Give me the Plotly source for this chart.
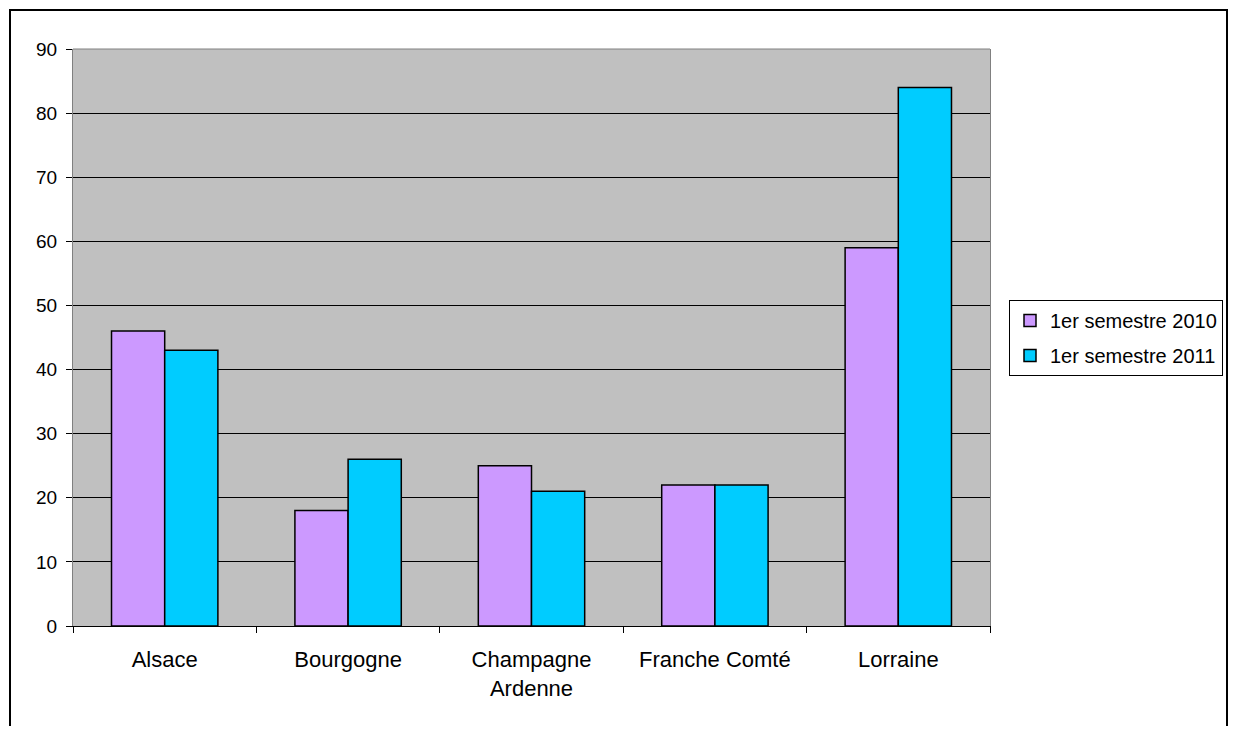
import plotly.graph_objects as go

categories = ["Alsace", "Bourgogne", "Champagne<br>Ardenne", "Franche Comté", "Lorraine"]
series_names = ["1er semestre 2010", "1er semestre 2011"]
values_2010 = [46, 18, 25, 22, 59]
values_2011 = [43, 26, 21, 22, 84]
y_ticks = [0, 10, 20, 30, 40, 50, 60, 70, 80, 90]

# page body has an 8px margin; figure coords = screen coords - 8
OFF = 8
W, H = 1236 - OFF, 734 - 2 * OFF
L, R, T, B = 73 - OFF, 990 - OFF, 49 - OFF, 626 - OFF

FAM = "Liberation Sans, Arial, sans-serif"

fig = go.Figure()
fig.add_trace(go.Bar(x=categories, y=values_2010, name=series_names[0], legendgroup="a",
                     marker=dict(color="#CC99FF", line=dict(color="#000000", width=1.5))))
fig.add_trace(go.Bar(x=categories, y=values_2011, name=series_names[1], legendgroup="b",
                     marker=dict(color="#00CCFF", line=dict(color="#000000", width=1.5))))

def px_x(p):
    return (p - OFF - L) / (R - L)

def px_y(p):
    return (B - (p - OFF)) / (B - T)

fig.update_layout(
    width=W, height=H,
    margin=dict(l=L, r=W - R, t=T, b=H - B, pad=0),
    paper_bgcolor="#FFFFFF",
    plot_bgcolor="#C0C0C0",
    font=dict(family=FAM, size=20, color="#000000"),
    barmode="group",
    bargap=0.42,
    bargroupgap=0,
    showlegend=True,
    legend=dict(
        x=px_x(1009), y=px_y(300), xanchor="left", yanchor="top",
        bordercolor="#000000", borderwidth=1, bgcolor="#FFFFFF",
        font=dict(family=FAM, size=20, color="#000000"),
        traceorder="grouped", tracegroupgap=6,
    ),
    xaxis=dict(
        type="category",
        showline=True, linecolor="#000000", linewidth=1,
        ticks="outside", ticklen=6, tickcolor="#000000", tickson="boundaries",
        showgrid=False,
        ticklabelstandoff=14,
        tickfont=dict(family=FAM, size=22, color="#000000"),
    ),
    yaxis=dict(
        range=[0, 90], tickvals=y_ticks,
        showline=True, linecolor="#808080", linewidth=1, mirror=True,
        ticks="outside", ticklen=6, tickcolor="#000000",
        showgrid=True, gridcolor="#000000", gridwidth=1,
        zeroline=False,
        ticklabelstandoff=5,
        tickfont=dict(family=FAM, size=19, color="#000000"),
    ),
    shapes=[
        dict(type="line", xref="paper", yref="paper", x0=0, x1=1, y0=1, y1=1,
             line=dict(color="#808080", width=1), layer="above"),
        dict(type="rect", xref="paper", yref="paper",
             x0=px_x(10), x1=px_x(1227), y0=px_y(10), y1=px_y(760),
             line=dict(color="#000000", width=2), layer="above"),
    ],
)

fig.write_html("out.html")
